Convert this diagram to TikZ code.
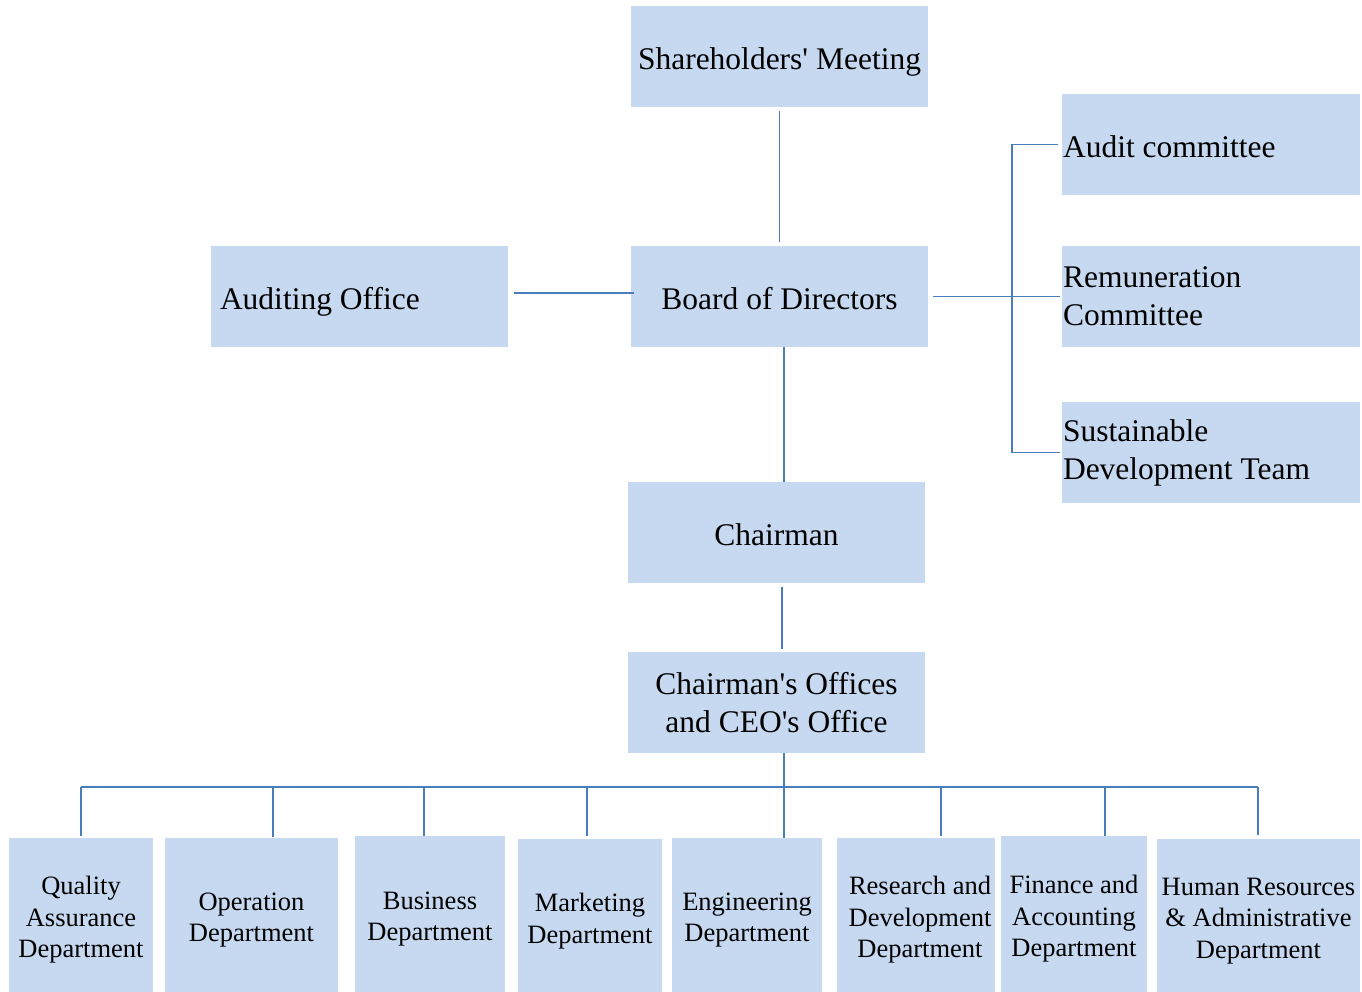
\documentclass[tikz,border=0pt]{standalone}
\usepackage{fontspec}
\setmainfont{Liberation Serif}
\definecolor{boxfill}{HTML}{C6D9F0}
\definecolor{linec}{HTML}{4A7EBB}
\begin{document}
\begin{tikzpicture}[x=1pt,y=-1pt,
  box/.style={fill=boxfill, draw=none, inner sep=0pt, minimum width=297pt, minimum height=101pt,
    font=\fontsize{31.5}{38}\selectfont, align=center},
  oneline/.style={text height=30pt, text depth=4pt},
  sidebox/.style={box, text width=296pt, align=flush left, inner xsep=1pt},
  dept/.style={fill=boxfill, draw=none, inner sep=0pt, font=\fontsize{26.5}{31.5}\selectfont, align=center},
  conn/.style={draw=linec, line width=1.8pt}]
\useasboundingbox (0,0) rectangle (1362,991);

% top column
\node[box, oneline] (share) at (779.5,56) {Shareholders\textquotesingle{} Meeting};
\node[box, oneline] (board) at (779.5,296.5) {Board of Directors};
\node[box, oneline, text width=279pt, align=flush left, inner xsep=9pt] (audoff) at (359.5,296.5) {Auditing Office};
\node[box, oneline] (chair) at (776.5,532.5) {Chairman};
\node[box] (ceo) at (776.5,702.5) {Chairman\textquotesingle s Offices\\and CEO\textquotesingle s Office};

% committees
\node[sidebox, oneline] (audit) at (1211,144.5) {Audit committee};
\node[sidebox] (remu) at (1211,296.5) {Remuneration\\Committee};
\node[sidebox] (sust) at (1211,452.5) {Sustainable\\Development Team};

% departments (boxes run past the lower page edge)
\node[dept, minimum width=144pt, minimum height=164pt] (qa) at (81,920) {Quality\\Assurance\\Department};
\node[dept, minimum width=173pt, minimum height=164pt] (op) at (251.5,920) {Operation\\Department};
\node[dept, minimum width=150pt, minimum height=166pt] (bus) at (430,919) {Business\\Department};
\node[dept, minimum width=144pt, minimum height=164pt] (mkt) at (590,921) {Marketing\\Department};
\node[dept, minimum width=150pt, minimum height=164pt] (eng) at (747,920) {Engineering\\Department};
\node[dept, minimum width=158pt, minimum height=164pt] (rd) at (916,920) {\hspace*{8pt}Research and\\\hspace*{8pt}Development\\\hspace*{8pt}Department};
\node[dept, minimum width=146pt, minimum height=166pt] (fin) at (1074,919) {Finance and\\Accounting\\Department};
\node[dept, minimum width=203pt, minimum height=164pt] (hr) at (1258.5,921) {Human Resources\\\& Administrative\\Department};

% vertical chain
\draw[conn, shorten <=4pt, shorten >=4pt] (share) -- (board);
\draw[conn] ([xshift=4.5pt]board.south) -- ([xshift=4.5pt]board.south |- chair.north) -- ++(0,-4);
\draw[conn, shorten <=4pt, shorten >=3pt] ([xshift=5.5pt]chair.south) -- ([xshift=5.5pt]chair.south |- ceo.north);

% auditing office
\draw[conn] ([xshift=6pt,yshift=3.5pt]audoff.east) -- ([xshift=3pt,yshift=3.5pt]board.west);

% committees bus
\coordinate (cbus) at (1012,296.5);
\draw[conn] ([xshift=5pt]board.east) -- ([xshift=-2pt]remu.west);
\draw[conn] ([xshift=-4pt]audit.west) -| (cbus) |- ([xshift=-2pt]sust.west);

% department bus
\coordinate (dqa) at (81,787);
\coordinate (dop) at (273,787);
\coordinate (dbus) at (424,787);
\coordinate (dmkt) at (587,787);
\coordinate (deng) at (784,787);
\coordinate (drd) at (941,787);
\coordinate (dfin) at (1105,787);
\coordinate (dhr) at (1258,787);
\draw[conn] (dqa) -- (dhr);
\draw[conn] ([xshift=7.5pt]ceo.south) -- (deng |- eng.north);
\draw[conn, shorten >=2pt] (dqa) -- (dqa |- qa.north);
\draw[conn, shorten >=1pt] (dop) -- (dop |- op.north);
\draw[conn] (dbus) -- (dbus |- bus.north);
\draw[conn, shorten >=3pt] (dmkt) -- (dmkt |- mkt.north);
\draw[conn, shorten >=2pt] (drd) -- (drd |- rd.north);
\draw[conn] (dfin) -- (dfin |- fin.north);
\draw[conn, shorten >=4pt] (dhr) -- (dhr |- hr.north);
\end{tikzpicture}
\end{document}
